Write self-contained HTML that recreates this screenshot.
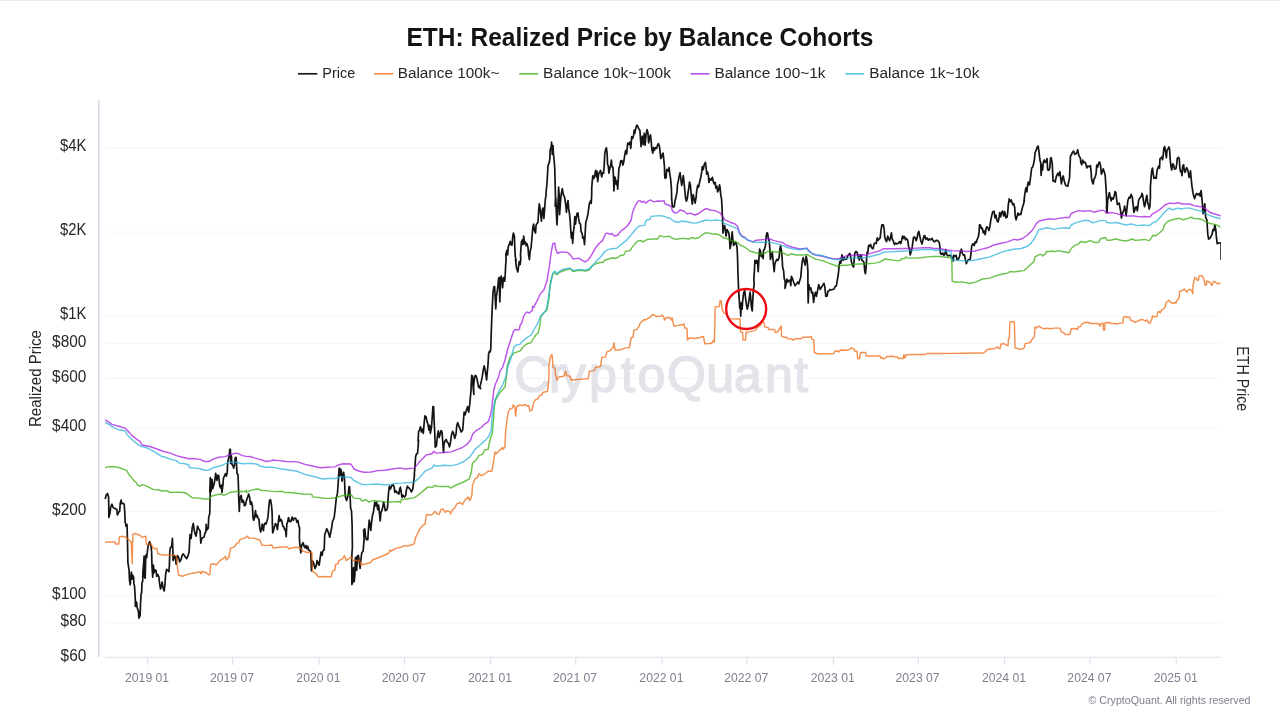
<!DOCTYPE html>
<html lang="en"><head><meta charset="utf-8"><title>ETH: Realized Price by Balance Cohorts</title>
<style>
html,body{margin:0;padding:0;background:#fff;}
body{width:1280px;height:719px;overflow:hidden;font-family:"Liberation Sans",sans-serif;}
svg{display:block;}
svg text{font-family:"Liberation Sans",sans-serif;}
.s{fill:none;stroke-width:1.45;stroke-linejoin:round;stroke-linecap:butt;stroke-opacity:0.72;}
</style></head><body>
<svg width="1280" height="719" viewBox="0 0 1280 719">
<rect width="1280" height="719" fill="#fff"/>
<rect x="0" y="0" width="1280" height="1" fill="#ececee"/>
<text x="640" y="46.3" text-anchor="middle" font-size="25.4" font-weight="bold" fill="#141414" textLength="467" lengthAdjust="spacingAndGlyphs">ETH: Realized Price by Balance Cohorts</text>
<g font-size="15.4" fill="#262626">
<text x="322.3" y="77.6" textLength="33" lengthAdjust="spacingAndGlyphs">Price</text>
<text x="397.7" y="77.6" textLength="101.8" lengthAdjust="spacingAndGlyphs">Balance 100k~</text>
<text x="543.1" y="77.6" textLength="127.8" lengthAdjust="spacingAndGlyphs">Balance 10k~100k</text>
<text x="714.5" y="77.6" textLength="111.1" lengthAdjust="spacingAndGlyphs">Balance 100~1k</text>
<text x="869.2" y="77.6" textLength="110.2" lengthAdjust="spacingAndGlyphs">Balance 1k~10k</text>
</g>
<g stroke-width="1.7" fill="none">
<line x1="298" x2="317.3" y1="73.8" y2="73.8" stroke="#1a1a1a"/>
<line x1="374.1" x2="393.2" y1="73.8" y2="73.8" stroke="#f3904f"/>
<line x1="519.2" x2="538.3" y1="73.8" y2="73.8" stroke="#6cc24e"/>
<line x1="690.6" x2="709.5" y1="73.8" y2="73.8" stroke="#bb55e8"/>
<line x1="845.3" x2="864.1" y1="73.8" y2="73.8" stroke="#62c6e4"/>
</g>
<g stroke="#f6f6f9" stroke-width="1"><line x1="105" x2="1221" y1="147.8" y2="147.8"/><line x1="105" x2="1221" y1="232.0" y2="232.0"/><line x1="105" x2="1221" y1="316.2" y2="316.2"/><line x1="105" x2="1221" y1="343.3" y2="343.3"/><line x1="105" x2="1221" y1="378.3" y2="378.3"/><line x1="105" x2="1221" y1="427.5" y2="427.5"/><line x1="105" x2="1221" y1="511.7" y2="511.7"/><line x1="105" x2="1221" y1="595.9" y2="595.9"/><line x1="105" x2="1221" y1="623.0" y2="623.0"/></g>
<line x1="98.7" x2="98.7" y1="100" y2="657" stroke="#d9d9e6" stroke-width="1.6"/>
<line x1="105" x2="1221" y1="657.3" y2="657.3" stroke="#dfdfea" stroke-width="1.1"/>
<g stroke="#dfdfea" stroke-width="1.1"><line x1="147.7" x2="147.7" y1="657" y2="665"/><line x1="232.6" x2="232.6" y1="657" y2="665"/><line x1="319.0" x2="319.0" y1="657" y2="665"/><line x1="404.4" x2="404.4" y1="657" y2="665"/><line x1="490.7" x2="490.7" y1="657" y2="665"/><line x1="575.7" x2="575.7" y1="657" y2="665"/><line x1="662.0" x2="662.0" y1="657" y2="665"/><line x1="746.9" x2="746.9" y1="657" y2="665"/><line x1="833.3" x2="833.3" y1="657" y2="665"/><line x1="918.2" x2="918.2" y1="657" y2="665"/><line x1="1004.6" x2="1004.6" y1="657" y2="665"/><line x1="1090.0" x2="1090.0" y1="657" y2="665"/><line x1="1176.3" x2="1176.3" y1="657" y2="665"/></g>
<g font-size="16.3" fill="#262626" text-anchor="end"><text x="86.3" y="151.0" textLength="26.4" lengthAdjust="spacingAndGlyphs">$4K</text><text x="86.3" y="235.2" textLength="26.4" lengthAdjust="spacingAndGlyphs">$2K</text><text x="86.3" y="319.4" textLength="26.4" lengthAdjust="spacingAndGlyphs">$1K</text><text x="86.3" y="346.5" textLength="34.2" lengthAdjust="spacingAndGlyphs">$800</text><text x="86.3" y="381.5" textLength="34.2" lengthAdjust="spacingAndGlyphs">$600</text><text x="86.3" y="430.7" textLength="34.2" lengthAdjust="spacingAndGlyphs">$400</text><text x="86.3" y="514.9" textLength="34.2" lengthAdjust="spacingAndGlyphs">$200</text><text x="86.3" y="599.1" textLength="34.2" lengthAdjust="spacingAndGlyphs">$100</text><text x="86.3" y="626.2" textLength="25.7" lengthAdjust="spacingAndGlyphs">$80</text><text x="86.3" y="661.2" textLength="25.7" lengthAdjust="spacingAndGlyphs">$60</text></g>
<g font-size="12.2" fill="#7d808e" text-anchor="middle"><text x="147.1" y="681.6">2019 01</text><text x="232.0" y="681.6">2019 07</text><text x="318.4" y="681.6">2020 01</text><text x="403.8" y="681.6">2020 07</text><text x="490.1" y="681.6">2021 01</text><text x="575.1" y="681.6">2021 07</text><text x="661.4" y="681.6">2022 01</text><text x="746.3" y="681.6">2022 07</text><text x="832.7" y="681.6">2023 01</text><text x="917.6" y="681.6">2023 07</text><text x="1004.0" y="681.6">2024 01</text><text x="1089.4" y="681.6">2024 07</text><text x="1175.7" y="681.6">2025 01</text></g>
<text transform="translate(41.3,378.5) rotate(-90)" text-anchor="middle" font-size="16.3" fill="#262626" textLength="97" lengthAdjust="spacingAndGlyphs">Realized Price</text>
<text transform="translate(1237.3,378.8) rotate(90)" text-anchor="middle" font-size="16.3" fill="#262626" textLength="65" lengthAdjust="spacingAndGlyphs">ETH Price</text>
<text x="514.3 549 561 588.9 621 637.5 667 706.2 734 765.1 793.9" y="391.5" font-size="50" fill="#e3e3ea" stroke="#e3e3ea" stroke-width="1.5" stroke-linejoin="round">CryptoQuant</text>
<clipPath id="plotclip"><rect x="104" y="95" width="1117" height="565"/></clipPath>
<g clip-path="url(#plotclip)">
<path class="s" style="stroke-width:1.7;stroke-opacity:1" stroke="#141414" d="M105.2,499.1 L106.1,495.3 L107.5,493.4 L108.6,497.2 L108.9,517.3 L109.8,514.1 L110.8,506.6 L112,504.2 L113.1,507.5 L114.5,508.4 L115.9,508.9 L116.9,509.4 L117.3,515 L118.7,512.2 L119.7,511.2 L120.2,503.7 L121.1,500 L121.7,503.7 L123,503.3 L124.2,504.2 L124.8,513.1 L125.1,521.6 L126.1,526.2 L127,524.4 L127.4,537.5 L127.7,552 L127.9,562.3 L129.1,570.7 L129.5,580.1 L130.2,584.8 L130.9,576.4 L131.4,572.2 L132.1,579.2 L132.8,575.4 L133.6,577.3 L133.9,583.9 L134.5,585.7 L135.2,597 L135.4,606.4 L136.1,601.7 L136.7,602.6 L137,607.3 L138.4,611.1 L138.9,618.1 L140.1,615.7 L140.5,604.5 L141.1,594.2 L141.7,592.3 L142,582.9 L142.7,581.1 L142.9,571.7 L143.6,564.2 L144.1,556.2 L144.5,577.3 L145.2,578.2 L145.7,557.6 L146.1,554.8 L146.7,557.6 L147.3,552 L148.3,545 L149.7,541.7 L151.1,546.9 L151.6,552 L152,566.1 L152.7,577.3 L153.4,565.1 L154.2,572.6 L155.1,569.8 L156.1,570.7 L156.7,576.4 L157.7,574.5 L158.9,576.8 L159.5,582.9 L160.5,589 L161.4,585.7 L162.1,582 L163,587.6 L164.2,590.9 L164.9,584.8 L165.6,574.5 L166.6,569.3 L167.7,570.3 L168.9,571.7 L169.4,565.1 L169.8,552 L170.3,547.8 L171.7,546.4 L172.4,538.4 L172.9,552 L173.1,560.4 L174.1,557.6 L174.8,555.7 L175.5,557.6 L176.1,564.2 L176.9,557.6 L177.6,555.7 L178.7,557.6 L179.7,561.8 L181.1,559.5 L182.3,554.8 L183.4,553.9 L184.4,555.7 L186.7,558.6 L188.1,555.3 L189.1,552 L190,534.7 L191.1,538.4 L192.3,527.2 L193.3,523.4 L194.2,530 L195.2,534.2 L196.1,536.1 L197,530 L197.5,526.2 L198.9,529.1 L200.1,530.9 L200.8,543.1 L201.7,538.4 L204.1,537 L205,532.8 L205.9,531.9 L206.2,524.4 L206.9,530 L208.3,528.1 L208.7,517.3 L209.7,514.1 L210.2,494.4 L210.6,485 L209.8,492.5 L210.3,477.5 L211.1,491.1 L212,479.4 L212.7,488.7 L214.1,484.1 L214.8,480.3 L215.7,473.3 L216.9,480.3 L218,475.2 L218.7,475.6 L219.7,485.9 L220.6,487.8 L221.4,485 L222,492.5 L223,484.1 L223.4,478.4 L224.6,475.6 L225.5,473.7 L226.4,476.1 L227.2,472.8 L227.7,462.5 L228.6,457.8 L229.2,456.4 L229.8,449.4 L230.4,449.4 L230.7,463.4 L231.4,455.9 L231.9,464.4 L232.8,465.3 L233.7,468.1 L234.5,464.4 L235.2,457.8 L236.1,457.3 L236.6,466.2 L237,473.7 L238,474.7 L238.4,485 L238.7,495.3 L238.6,495 L239.3,511.4 L239.9,497.8 L241.2,495.5 L242.1,502.5 L243,500.2 L243.7,501.6 L244.4,505.8 L245.4,505.3 L246.3,501.1 L247.4,497.8 L248.7,494.1 L249.6,497.3 L250.5,504.4 L251.5,502 L252.4,506.2 L253.1,518.4 L253.8,520.3 L254.7,516.6 L255.5,510.5 L256.2,517 L257.1,515.2 L258,518 L259,519.4 L259.6,526.9 L260.6,532 L261.5,528.7 L262.2,524.1 L263.4,530.6 L264.1,525 L265.1,523.1 L266,524.1 L266.9,521.2 L267.9,517.5 L268.8,507.2 L269.6,500.2 L270.5,499.7 L271.4,504.4 L272.1,511.9 L272.4,525 L272.7,533 L273.5,530.6 L274.4,526.9 L275.4,523.6 L276.5,525 L277.4,529.7 L278.2,523.1 L279.1,515.6 L279.9,521.2 L281,519.4 L281.9,521.2 L282.7,525.9 L283.8,526.9 L284.7,529.7 L285.5,529.2 L286.2,536.7 L286.8,524.1 L287.6,522.2 L288.5,517.5 L289.4,521.2 L290.8,521.7 L292.1,517 L293.2,520.3 L294.3,518 L295.8,518.4 L296.9,522.2 L297.9,520.3 L298.8,525.9 L299.6,527.8 L299.4,537.5 L299.8,544.1 L300.8,553 L301.7,545.5 L303.1,542.7 L304.2,546.4 L305,547.8 L305.9,545.5 L306.9,548.7 L307.8,546.4 L308.7,550.2 L310.2,551.1 L310.8,552.5 L311.4,570.8 L312.5,560.9 L313.4,562.3 L314.2,565.6 L315.1,568.4 L316.2,565.6 L317.2,560.5 L318.3,563.7 L319.2,565.2 L320,559.1 L321.1,552 L322.1,555.3 L322.8,551.1 L324.2,549.7 L324.7,534.7 L326,531.1 L326.7,528.7 L327.9,531.1 L328.8,533.9 L329.7,537.2 L330.7,532.5 L331.6,527.8 L332.6,521.2 L333.5,519.4 L334.2,517.5 L335.4,507.2 L336.3,497.8 L337.4,494.1 L338.2,482.8 L338.6,475.6 L339.2,468.1 L339.9,475.6 L340.6,469.1 L341.4,470.9 L342,481.2 L343,475.6 L343.6,472.3 L344.4,477.5 L345.2,495.9 L346.6,500.6 L347.6,497.3 L348.3,494.1 L349,486.6 L349.6,487 L350.2,498.7 L350.6,508.1 L351.5,510.9 L352.1,525 L352.4,547 L351.7,558.1 L351.9,584.4 L352.6,582.5 L353.3,569.4 L353.7,567.5 L354.2,581.6 L354.9,574.1 L355.4,558.1 L356.1,557.2 L356.7,570.3 L357.5,556.2 L358.4,555.3 L359.2,560.9 L360.1,568.4 L360.8,560.9 L361.7,553 L363.1,551.1 L364.1,539.4 L363.6,530.3 L364.8,528.9 L365.5,535.9 L366.4,539.7 L367.8,539.7 L368.3,531.2 L369.2,520 L370.2,526.6 L370.8,530.3 L371.6,521.9 L372.5,515.3 L373.4,512.5 L374.2,505.9 L374.8,502.2 L375.8,505.9 L376.7,502.2 L377.7,509.7 L378.6,505 L379.2,510.6 L380.2,520.9 L380.9,512.5 L381.9,510.6 L382.8,506.9 L383.6,502.2 L384.5,505.9 L385.2,510.6 L386.6,510.2 L387.5,507.8 L388,500.3 L388.6,491.9 L389.4,486.2 L390.3,489.1 L391.7,485.8 L393.1,484.8 L394.1,486.7 L394.8,492.3 L395.9,490.9 L396.9,492.8 L397.8,492.3 L398.9,494.2 L399.7,489.1 L400.4,487.2 L401.1,491.4 L402,497.5 L403,495.2 L404.4,497 L405.8,495.2 L406.2,490.9 L407.4,486.2 L408.6,487.7 L410,489.1 L411.4,491.9 L412.8,489.1 L413.7,481.6 L414.5,475 L414.2,475.6 L414.9,467.2 L415.6,456.9 L416.4,454.1 L417.5,453.6 L418.2,445.6 L418.6,440 L418.1,441.2 L418.6,431.9 L419.5,430 L420.5,426.7 L421.4,431.9 L422.3,429.1 L423.3,433.3 L424.2,422.5 L424.9,415.9 L426.1,416.9 L427,421.6 L428,424.4 L428.9,430 L429.6,425.3 L430.3,433.3 L431.4,428.1 L432.2,417.8 L432.9,406.6 L433.6,406.6 L434.2,422.5 L434.8,433.7 L435.2,447.3 L436.4,445.9 L437.3,437.5 L438.3,430.9 L439.2,437.5 L440.2,433.7 L441.1,430.5 L442,431.9 L442.7,441.2 L443.2,448.7 L443.6,452.5 L443.9,445 L444.8,441.2 L446.2,439.4 L447.2,442.2 L448.3,443.1 L449.5,446.9 L450.5,442.2 L451.4,435.6 L452.6,431.4 L453.7,433.7 L454.7,438.4 L456.1,433.7 L456.7,426.2 L457.7,422.5 L458.6,425.3 L459.8,428.1 L461.1,431.9 L462.7,430 L463.3,422.5 L464.1,412.2 L465,415 L466.4,410.3 L467.6,406.6 L468.7,412.2 L469.7,404.7 L470.4,397.2 L471.1,389.7 L471.1,387 L471.7,375.3 L472.5,376.2 L473.1,387 L473.9,394.4 L473.6,387 L474.4,378.1 L475.3,375.3 L476.2,376.2 L477.2,380 L478.1,384.7 L478.6,387 L480.7,388.7 L479.8,387 L480.5,384.7 L481.4,380.9 L482.3,376.2 L483.3,369.7 L484.2,365.9 L485.2,370.6 L486.1,376.2 L486.6,380 L487.3,371.6 L488,365 L488.6,353.7 L489.4,351.4 L490.3,351.9 L490.8,348.1 L491.2,334.1 L491.7,320 L492.3,306.6 L493,292.5 L493.9,286.9 L494.6,286.4 L495.1,296.2 L495.8,308.9 L496.4,296.2 L497.2,291.6 L497.9,285.9 L498.6,278.4 L499.2,277.5 L499.8,301.9 L500.5,283.1 L501.1,276.1 L501.9,278.4 L502.6,287.8 L503.3,279.4 L503.9,277.5 L504.7,281.2 L505.2,275.2 L505.6,266.2 L506.1,259.7 L505.9,254.1 L506.9,250.3 L507.6,255 L508.3,246.6 L509.2,244.7 L510.2,241.4 L511.1,244.7 L512,245.2 L512.7,237.2 L513.4,233 L514.4,236.2 L514.8,247.5 L515.3,256.9 L516.2,260.6 L515.5,259.7 L516.4,267.2 L517.8,271.9 L518.6,266.2 L519.2,261.6 L520.2,264.4 L520.8,258.7 L520.5,255 L521.4,241.9 L522.3,240 L523,244.7 L523.7,236.2 L524.5,243.7 L525.4,241.9 L526.1,245.6 L527,243.7 L528,247.5 L528.6,255 L529.4,259.7 L530.1,251.2 L531.1,247.5 L532,237.2 L532.9,226.9 L533.6,224.1 L534.5,230.6 L535.5,233 L536.1,225 L537.3,223.1 L538,222.2 L538.6,211.9 L539.2,203.9 L539.9,207.2 L540.6,213.7 L541.4,221.2 L542.3,210 L543,208.1 L543.9,218.4 L544.6,209.1 L545.3,199.7 L546.1,195 L546.1,191.9 L546.9,184.4 L547.6,173.1 L548,165.6 L549.2,162.8 L549.9,158.1 L550.2,149.7 L551.1,147.3 L551.6,142.2 L552.3,154.4 L553,145.5 L553.4,153.4 L554.2,160.9 L554.8,169.4 L555.1,182.5 L555.5,197 L555.2,206.2 L555.8,197.8 L556.4,213.7 L557,225 L557.7,209.1 L558.4,195 L558.6,187.2 L559.2,195.6 L559.6,214.7 L560.3,204.4 L561.1,195 L562.3,188.6 L563.3,194.7 L564.5,197 L565,199.7 L565.9,206.2 L566.4,212.3 L567.3,204.4 L568,200.6 L568.7,209.1 L569.5,213.7 L570.2,221.2 L570.8,230.6 L571.4,238.1 L572,232.5 L572.7,243.3 L573.4,232.5 L574.2,225.9 L574.8,216.6 L575.5,224.1 L576.2,218.4 L577,213.7 L577.9,212.8 L578.6,218.4 L579.5,223.1 L580.5,224.1 L581.1,231.6 L582.1,233.4 L582.8,238.1 L583.7,237.2 L584.5,244.7 L585.2,232.5 L585.8,222.2 L587,218.4 L588,213.7 L589.4,203.4 L590.8,200.6 L591.2,203.4 L591.7,195 L591.7,188.1 L592.3,180.6 L592.8,175.9 L593.7,178.7 L594.7,175 L595.6,170.3 L596.4,176.9 L597,171.2 L597.7,181.6 L598.6,174.1 L599.6,172.2 L600.5,170.3 L601.7,176.9 L602.7,172.7 L603.6,173.1 L604.2,165.6 L604.8,153.4 L605.7,149.2 L606.4,147.8 L607.1,153.4 L607.6,164.7 L608.3,165.6 L608.9,173.1 L609.9,168.4 L610.6,165.6 L611.4,160 L612,166.6 L613,167.5 L613.6,179.7 L613.9,190.9 L614.6,176.9 L615.3,177.8 L616.1,184.4 L617,181.1 L617.7,189.1 L618.3,178.7 L618.9,168.4 L619.8,166.1 L620.7,160.9 L621.9,160.5 L622.8,165.2 L623.7,162.3 L624.7,155.3 L625.6,150.6 L626.7,153.9 L627.7,143.1 L628.9,144.1 L629.8,142.2 L630.8,148.3 L631.7,136.6 L632.7,138.4 L633.6,135.6 L634.2,130 L634.2,130 L634.8,133.4 L635.5,129.7 L636.1,127.3 L636.9,125 L637.8,126.4 L638.7,128.7 L639.9,130.2 L640.4,138.1 L641.1,146.6 L641.7,138.1 L642.5,136.2 L643.2,144.7 L644.2,133.4 L645.1,145.2 L646.1,134.4 L647,129.7 L647.9,132.5 L648.6,142.8 L649.5,138.1 L650.5,134.8 L651.1,140.9 L651.9,149.4 L652.8,153.1 L653.6,147.5 L654.5,150.3 L655.4,147.5 L656.7,148.4 L657.5,145.2 L658.4,143.7 L659.4,146.1 L660.1,152.2 L660.8,158.7 L661.7,156.9 L662.4,154.1 L663.1,153.1 L663.9,160.6 L664.5,167.2 L664.6,174.1 L665.1,178.3 L666.1,177.8 L666.7,169.4 L667.7,170.3 L668.3,171.2 L669.1,167.5 L669.8,174.1 L670.7,179.7 L671.4,188.1 L671.7,199.4 L672.3,205.9 L673,206.9 L674.2,206.9 L674.9,201.2 L676.1,196.6 L677,191.9 L677.5,184.4 L678.4,180.6 L679.2,175.9 L680.1,172.7 L680.8,178.7 L681.7,185.3 L682.7,179.7 L683.3,175.5 L684.1,183.4 L684.8,190 L685.5,197.5 L686.4,201.2 L687.3,198.4 L688,192.8 L688.9,187.2 L689.5,182 L690.4,185.3 L691.1,193.7 L691.7,199.4 L692.3,204.1 L693.2,194.7 L694.2,199.4 L695.1,203.1 L696.1,197.5 L696.7,190.9 L697.7,185.3 L698.6,187.2 L699.5,182.5 L700.7,177.8 L701.7,172.2 L702.3,166.6 L703.3,169.4 L704.2,164.7 L705.4,162.3 L706.1,167.5 L706.7,174.1 L707.7,172.2 L708.4,175.9 L708.9,182.5 L709.8,178.7 L711.1,180.2 L712.4,177.3 L713.3,181.6 L714.2,183.9 L715.2,182.5 L715.9,188.1 L716.9,186.2 L717.6,191.9 L718.6,190 L719.5,184.8 L720.2,188.1 L720.6,193.7 L721.6,199.4 L722,206.9 L722.3,214.4 L722.7,220.9 L722.6,222 L723,233.2 L723.7,226.7 L724.7,225.7 L725.4,230.4 L726.1,236.1 L727,229.5 L728,231.4 L728.9,233.2 L729.6,240.7 L730.1,248.7 L731.1,243.6 L731.7,236.1 L732.2,231.8 L732.9,239.8 L733.6,245.4 L734.5,244.5 L735.5,242.2 L736.4,243.6 L737.1,248.2 L737.6,259.5 L738,274.5 L738.6,289.4 L739.2,298.7 L739.8,308.1 L740.2,303.4 L740.7,316.1 L741.4,302.5 L742.1,309.1 L742.6,301.6 L743.6,293.1 L744.7,290.3 L745.4,296.9 L746.4,304.4 L747.3,309.1 L748.2,305.3 L749.2,298.7 L750.1,292.2 L750.8,298.7 L751.4,307.2 L752.2,310.9 L752.7,301.6 L753.3,291.2 L754.1,284.7 L753.9,278.2 L754.5,268.9 L754.9,260.4 L756.1,263.2 L756.7,260.4 L757.5,261.4 L758.2,271.7 L758.9,259.5 L759.6,249.2 L760.5,251.1 L761.2,256.7 L762.4,253.9 L763.1,258.6 L763.6,250.1 L764.5,249.2 L765.5,245.4 L766.1,237 L766.9,232.8 L767.6,233.2 L768.3,238.4 L769.2,240.7 L769.9,250.1 L770.4,259.5 L771.4,255.7 L772.3,252.5 L773,259.5 L773.6,266.1 L774.2,271.7 L774.8,264.2 L775.8,261.4 L776.7,259.5 L777.9,260.4 L779.1,257.6 L779.8,250.1 L780.5,245.9 L781.4,250.1 L782.1,257.6 L782.6,267 L783.6,270.7 L784.2,278.2 L785.2,282 L785,288.4 L786.1,283.9 L787,279.2 L788,282 L788.9,280.6 L790.1,280.1 L790.8,285.7 L791.4,276.4 L792.7,279.2 L793.6,282 L795,285.7 L796.4,283.9 L797.8,282 L798.7,283.9 L799.9,280.1 L800.8,277.3 L801.6,267 L802.3,261.4 L803.2,257.6 L804.2,261.4 L805.1,265.1 L806.2,256.2 L807.2,261.4 L807.9,270.7 L807.9,289.4 L808.2,303 L808.9,284.7 L809.8,289.4 L810.8,288 L811.7,293.1 L812.7,292.2 L813.6,302.5 L814.5,295.5 L815.5,292.2 L816.4,296.4 L817.8,289.4 L818.7,284.7 L820.2,289.4 L821.6,287 L822.5,285.6 L823.9,283.3 L824.8,286.6 L825.8,296.4 L827.2,295.9 L827.9,291.2 L829.1,290.8 L830,289.4 L831.2,290 L834.1,289 L835,286.7 L836.4,285.7 L837.3,280.1 L838.3,274.5 L839.2,265.1 L839.9,261.4 L840.8,263.2 L841.4,258.6 L842,254.8 L843,260.4 L844.2,257.6 L845.3,259.5 L846.7,259 L847.7,255.7 L848.6,254.8 L849.8,253.4 L850.7,256.7 L851.4,261.4 L852.3,265.1 L853.6,267 L854.2,258.6 L854.9,252.9 L856.1,251.5 L857.3,252.9 L858.2,257.6 L859.4,260 L860.3,254.8 L861.2,255.3 L862,260.4 L863.1,260.9 L864.1,263.2 L864.8,271.7 L865.5,273.6 L866.1,267 L866.7,257.6 L867.1,252 L867.8,252.9 L868.6,245.4 L869.5,246.4 L870.6,244.5 L871.6,247.8 L873,248.7 L874.2,243.6 L875.3,243.1 L876.2,243.6 L877.2,237.9 L878.1,240.3 L879.2,238.9 L880.2,237.9 L881.1,229.5 L881.9,224.8 L883.3,224.8 L884.2,229.5 L884.7,237 L885.6,239.8 L886.6,241.7 L887.7,236.1 L888.6,238.4 L889.6,240.7 L890.5,237.5 L891.4,232.8 L892.2,238.9 L893.1,240.7 L894.5,244.5 L895.7,243.1 L896.9,244 L898.3,243.1 L899.7,241.7 L900.6,243.6 L901.6,240.7 L902.5,236.1 L903.4,238.4 L904.4,236.5 L905.5,239.8 L906.4,238.4 L907.7,240.3 L908.6,246.4 L909.5,249.2 L910.2,254.8 L911.4,251.1 L912.3,246.4 L913,240.7 L913.7,237 L915.2,237.5 L916.1,240.7 L917,238.4 L918,233.2 L918.9,231.4 L919.8,236.1 L920.8,240.7 L922,244 L922.9,240.3 L923.9,236.1 L924.8,235.6 L925.7,239.3 L926.9,237.9 L928.3,240.3 L929.2,238.9 L930.4,239.8 L932,238.4 L933.4,241.2 L934.8,241.7 L936.2,240.3 L937.9,240.7 L939.2,242.2 L939.9,246.9 L940.4,253.4 L941.6,254.4 L942.7,253 L943.9,255.3 L944.8,254.4 L945.8,249.7 L946.7,254.4 L948.1,255.8 L950,255.3 L951.4,256.2 L952.3,258.1 L953.3,260.9 L953.7,255.3 L955.2,256.2 L956.1,255.3 L957,259.5 L958.4,259.1 L959.6,256.2 L960.5,251.1 L961.4,249.2 L962.4,253.4 L963.6,255.3 L964.5,254.8 L965.5,260 L966.4,263.7 L967.3,260.9 L968.6,259.5 L970.2,259.5 L971.1,252.5 L971.7,245.9 L973,243.6 L974.2,245.5 L975.3,241.7 L976.2,242.7 L977.2,239.4 L978.3,237 L979.1,231.9 L979.5,224.8 L980.5,225.3 L981.4,228.6 L982.3,228.1 L983.3,232.8 L984.2,230.9 L985.2,234.7 L986.1,228.1 L987,226.7 L988,228.1 L988.9,230.5 L989.8,227.2 L990.8,220.2 L991.7,215.9 L992.7,211.7 L994.1,211.2 L995,217.8 L995.9,215 L996.9,220.2 L998,222 L998.9,218.7 L999.7,212.7 L1000.6,216.9 L1001.7,212.2 L1002.7,211.2 L1003.6,215.9 L1004.8,211.7 L1005.8,217.8 L1007,217.3 L1007.7,213.1 L1008.3,204.7 L1009.1,200 L1009.1,198.9 L1010,201.7 L1011.1,199.9 L1012.1,202.7 L1012.8,204.7 L1013.7,203.7 L1014.7,207.5 L1015.2,215.9 L1016.1,219.7 L1017,216.4 L1018,213.1 L1018.9,215 L1019.8,214.1 L1020.8,214.5 L1021.7,210.3 L1022.7,206.6 L1023.6,203.7 L1024.5,200 L1023.9,201.7 L1024.8,194.2 L1025.5,189.6 L1026.1,187.7 L1026.9,191.9 L1027.6,184.9 L1028.3,182.1 L1029.5,184.9 L1030.2,180.2 L1031.1,172.7 L1031.7,168 L1032.7,167.1 L1033.6,163.8 L1034.4,159.6 L1035.1,152.5 L1036.2,150.2 L1037.2,146.9 L1038.1,146 L1038.9,151.1 L1039.5,156.7 L1040.2,161.4 L1040.7,162.4 L1041.1,175.5 L1041.9,165.2 L1042.6,169.9 L1043.3,162.4 L1044.2,160 L1045.2,162.4 L1046.1,161.4 L1047,158.6 L1047.7,169.9 L1048.9,170.3 L1049.8,168 L1050.5,158.2 L1051.2,157.7 L1052.2,163.3 L1052.7,173.6 L1053.1,181.1 L1054.5,180.7 L1055.2,182.1 L1056.1,177.4 L1057.1,174.6 L1058,173.2 L1058.9,175.5 L1059.9,171.7 L1060.6,177.4 L1061.4,183.9 L1062.3,178.3 L1063.2,176 L1064.2,180.7 L1065.1,183.9 L1066.1,185.8 L1067.7,186.3 L1068.6,182.1 L1069.5,178.3 L1070,166.1 L1070.5,155.8 L1071.4,154.9 L1072.3,152.5 L1073.6,151.1 L1074.7,154.4 L1076.1,153.5 L1077,152.1 L1077.7,149.7 L1078.4,153.9 L1079.4,156.7 L1080.3,157.7 L1080.8,162.4 L1081.7,164.7 L1082.7,160 L1083.6,162.8 L1084.8,161.9 L1085.9,164.2 L1086.9,168 L1087.8,166.1 L1089.2,166.6 L1090.4,165.7 L1091.1,171.7 L1091.6,179.2 L1092.5,182.5 L1093.2,183.9 L1093.9,179.2 L1095.1,177.4 L1096.1,173.6 L1096.7,165.2 L1097.7,167.1 L1098.6,163.3 L1099.5,161.9 L1100.5,165.2 L1101.4,174.1 L1102.3,171.7 L1103.3,168.9 L1104.2,171.7 L1105.2,175.5 L1105.8,184.9 L1106.4,194.2 L1106.7,205 L1106.4,207.2 L1107,212.8 L1107.5,204.4 L1107.7,200 L1108.4,197.2 L1109.4,192.5 L1110.1,196.2 L1111.1,200.9 L1112,197.7 L1113.1,199.1 L1114.1,196.2 L1115,191.6 L1115.9,192.5 L1116.7,200 L1117.3,204.4 L1118.3,203.9 L1119.2,203 L1119.9,207.2 L1120.6,210.9 L1121.4,218 L1122,215.6 L1123,211.9 L1123.9,210 L1124.6,206.2 L1125.3,210 L1126.1,215.6 L1126.7,210.9 L1127.4,204.4 L1127.9,200.2 L1129.1,197.2 L1130,198.1 L1131.1,194.4 L1132.3,197.2 L1133,203.7 L1133.3,206.2 L1133.9,212.3 L1134.7,210.5 L1135.4,207.2 L1136.6,206.7 L1137.3,210.9 L1138,206.2 L1138.6,200.2 L1139.8,198.1 L1141.2,196.2 L1142,193.4 L1142.7,195.3 L1143.3,200 L1144.1,204.7 L1144.5,206.7 L1145.2,204.4 L1145.9,199.7 L1146.9,195.3 L1147.6,201.9 L1148.3,204.4 L1149.2,209.1 L1149.9,206.2 L1150.4,197.8 L1150.4,186.9 L1151.1,177.5 L1151.7,170.9 L1152.5,168.1 L1153.2,173.7 L1153.9,178.4 L1155.3,177.5 L1156.2,178.4 L1157,170.9 L1157.9,168.1 L1158.6,166.2 L1159.5,168.1 L1160,158.7 L1160.9,158.3 L1161.9,156.9 L1162.6,159.7 L1163.3,154.1 L1163.9,148 L1164.7,146.6 L1165.6,152.2 L1166.4,157.8 L1167,150.3 L1168,148.9 L1168.9,147 L1169.6,149.4 L1170.1,158.7 L1170.8,165.3 L1171.7,170 L1172.7,163.9 L1173.6,164.8 L1174.5,169.1 L1175.9,168.6 L1176.7,164.4 L1177.3,158.3 L1178.3,157.3 L1179.2,158.3 L1179.9,168.1 L1180.6,171.9 L1181.4,170.9 L1182,175.6 L1182.7,166.2 L1183.6,164.8 L1184.4,170.9 L1185.1,172.3 L1186.1,169.1 L1186.7,167.7 L1187.7,170 L1188.3,172.3 L1189.1,177.5 L1189.8,176.6 L1190.5,170.9 L1191.1,177.5 L1191.9,185.9 L1192.8,191.6 L1193.7,196.2 L1194.7,198.6 L1195.6,195.3 L1196.6,193.4 L1198,194.8 L1199.4,193.4 L1200.3,196.2 L1201.1,190.6 L1201.7,196.2 L1202.4,203.7 L1202.7,209.1 L1203.1,213.7 L1203.9,211.9 L1204.2,207.2 L1204.8,203.9 L1205.2,210.9 L1205.7,217.5 L1206.9,219.8 L1207.3,226.9 L1207.8,234.4 L1208.6,239.1 L1209.7,238.6 L1211.1,236.2 L1212,234.4 L1213,229.7 L1213.9,230.6 L1214.8,225 L1215.8,229.7 L1216.4,237.2 L1217.2,243.7 L1218.3,243.3 L1219.5,242.8 L1221.1,243.2 L1221.1,260"/>
<path class="s" stroke="#ee650b" d="M105.2,542.2 L110,541.9 L115,541.9 L115.6,544 L118.8,544 L119.4,536.9 L122.5,536.2 L126.2,537.2 L128.8,540 L131.2,541.9 L132.2,563.8 L132.8,534.4 L135,533.5 L137.5,534.4 L141.2,536.2 L142.5,537.5 L145.6,536.2 L146.5,544.4 L151.2,543.8 L153.1,548.5 L156.9,548.5 L157.8,553.8 L162.5,555 L170,555 L176.2,555.6 L177.5,567.5 L178.5,575 L182.5,576.2 L187.5,574.4 L195,572.8 L200,571.9 L201.2,573.8 L201.9,571.5 L206.2,572.5 L208.8,575 L210,573.8 L210.6,564.4 L213.8,563.8 L216.2,565 L220,560.6 L223.8,558.1 L225.6,556.2 L226.2,560 L228.8,557.5 L230.6,548.1 L234.4,546.9 L236.9,543.1 L238.8,542.5 L240,539.4 L245,538.1 L247.5,536.2 L248.8,538.1 L253.8,538.1 L259.8,540 L261.9,545 L266.2,545.6 L271.9,545 L273.1,548.1 L278.8,547.2 L287.5,546.9 L288.8,548.8 L295,547.2 L300,547.5 L303.1,551.2 L307.5,552.5 L311.9,552.2 L312.5,571.2 L316.2,573.8 L318.1,576.9 L325,576.5 L331.2,576.9 L332.5,571.2 L335,570 L335.6,564.4 L338.1,563.8 L338.8,560.6 L342.5,558.8 L344.4,555.6 L346.2,560.6 L351.2,556.9 L353.1,560.6 L358.8,560.2 L360,561.2 L360.6,565 L366.2,563.8 L370.6,562.5 L372.5,560 L378.8,557.5 L385,555 L388.8,553.1 L390,550 L391.2,551.2 L396.2,548.1 L401.2,547.2 L403.8,545.6 L407.5,546 L413.1,544.4 L414.4,543.1 L415.6,537.5 L419.8,528.8 L423.1,525 L425,524.4 L426.5,514.4 L429.4,515 L432.5,514.4 L435,511.2 L436.9,513.8 L439.4,514.4 L440.6,510 L443.1,508.8 L445,512.5 L446.9,510.6 L450,511.9 L450.6,513.8 L452.5,510 L455,507.5 L456.9,503.8 L460,502.5 L462.5,504.4 L465,500 L468.1,496.9 L470,500.6 L471.9,495 L472.5,485 L473.1,483.8 L475,478.8 L477.5,477.5 L478.8,473.8 L481.2,475.6 L485,473.8 L488.1,471.2 L491.9,471.2 L493.8,460 L495,451.9 L496.2,453.8 L500,450 L502.5,447.5 L503.1,449.4 L505,446.9 L505.6,431.2 L506.9,421.2 L508.1,412.5 L510,408.8 L512.5,408.1 L513.1,405 L515,407.5 L515.6,416.2 L516.9,406.2 L520,405 L522.5,405.6 L525,404.4 L527.5,406.2 L528.8,405.6 L530,411.2 L531.9,410 L533.1,405 L534.4,401.2 L535.2,400 L538.1,398.8 L539.4,395.6 L541.9,395 L542.5,392.5 L547.5,391.2 L548.8,378.8 L549,366.2 L550,357.5 L551.9,354.4 L552.5,360 L553.1,367.5 L555,368.1 L555.6,375 L556.9,380 L558.8,376.9 L563.8,376.2 L565.6,371.2 L566.9,375.6 L570,376.2 L571.2,380 L578.8,379.4 L588.1,378.8 L589.4,371.2 L594.4,370.6 L595.6,367.5 L600.6,366.2 L601.9,357.5 L605.6,356.9 L606.9,351.9 L610,350.6 L611.9,348.8 L613.1,347.5 L614,342.8 L615,350 L619.8,350 L625,348.1 L629.4,347.5 L631.2,337.5 L633.1,337.2 L634,330 L636.9,329.4 L639.4,325.6 L640,323.5 L644.4,319.4 L645.6,320 L648.1,318.1 L650,317.5 L651.9,314.8 L654.4,315 L656.2,316.5 L660.6,316.2 L661.9,315 L663.8,316.9 L664.4,320 L666.2,317.8 L670,317.5 L671.2,320 L672.2,318.1 L673.1,323.1 L674,326.2 L676.9,325.6 L682.5,324.8 L684,323.8 L684.8,328.1 L686.9,328.1 L687.5,340 L689.4,337.8 L695,338.5 L700,337.5 L703.5,336.5 L704.8,343.8 L710,343.5 L712.5,342.5 L713.5,340 L714.4,341.9 L715.2,306.9 L719.4,306.5 L720,300.6 L721.2,300.6 L722.2,308.8 L723.8,313.1 L726.2,313.8 L728.8,318.8 L740,319 L740.6,331.9 L742.5,332.5 L743.1,340 L745.6,340 L746,332.5 L748.8,331.9 L755,330.6 L757.5,327.5 L760.6,325 L761.9,321.9 L763.8,321.9 L764.8,326.9 L768.1,327.5 L768.8,329.4 L774.4,329.4 L775.6,332.5 L777.8,331.9 L779.8,328.1 L781.2,326 L781.5,336.2 L783.8,337.2 L786.9,337.2 L787.5,338.8 L791.9,339 L793.1,340.2 L795,338.8 L801.2,338.8 L802.5,337.2 L808.8,337.2 L811.2,336.5 L812.2,339.4 L813.8,340 L814.4,352.5 L817.5,353.8 L826.2,353.8 L833.8,353.5 L834.8,351.2 L837.8,351 L838.5,351.9 L840.6,350 L847.5,350.2 L850.6,348.8 L851.5,347.8 L853.8,348.8 L854.8,351.2 L856.9,351.2 L857.8,358.8 L859.4,358.5 L860.6,352.5 L865.6,352.5 L866.2,356 L873.8,356 L880,356 L880.6,358.1 L881.9,357.5 L883.1,358.8 L885.6,358.1 L886.9,356.5 L893.1,356.2 L895,356.9 L897.5,356.9 L898.5,358.5 L903.1,358.5 L903.8,354.8 L905,358.1 L906,354.8 L916.2,354.4 L925.6,354.4 L926.9,353.5 L933.8,353.5 L939.8,353.5 L952.5,353.4 L965,353.2 L977.5,353 L983.1,353.1 L985.6,351.5 L986.9,349.8 L991.2,348.8 L995,348.5 L997.2,346.9 L998.1,348.1 L1000,348.5 L1001,344 L1003.8,343.5 L1006.2,345 L1008.1,345.6 L1008.5,338.8 L1009.4,338.1 L1009.8,323.1 L1011.2,321.5 L1014.4,321.9 L1015,348.1 L1016.9,348.1 L1019.4,349.4 L1023.1,348.8 L1024.4,347.5 L1025.2,343.5 L1027.5,343.1 L1030.2,342.5 L1031.9,339.8 L1033.1,337.8 L1034.4,337.2 L1035,326.9 L1036.9,328.1 L1038.8,326 L1041.9,328.1 L1045,328.8 L1046.9,328.1 L1050,328.8 L1055,328.1 L1060,328.1 L1061.5,331.9 L1063.8,332.8 L1065,334.4 L1070,334.4 L1071.2,328.8 L1075.6,328.5 L1077.5,329.4 L1078.1,326.9 L1080.6,326.5 L1081.9,323.8 L1085,322.5 L1087.5,322.2 L1091.2,323.5 L1096.2,323.5 L1099.4,324 L1099.8,326.2 L1101.9,323.1 L1103.1,323.1 L1103.5,330 L1104.8,330 L1105,322.8 L1108.8,322.5 L1111.2,323.5 L1115,323.5 L1116.9,324 L1119.4,323.1 L1122.8,323.1 L1123.5,316.9 L1125.6,316.5 L1127.5,317.5 L1128.1,316.9 L1130,317.5 L1130.6,320.2 L1132.5,320.6 L1134.4,322.2 L1137.5,321.2 L1140,320 L1142.5,319.4 L1145,321 L1146.9,320 L1148.8,323.1 L1150,323.1 L1151.9,318.8 L1152.5,316 L1155,316.9 L1156.9,316.2 L1157.8,312.2 L1159.4,311.5 L1160.2,312.8 L1161.2,310.6 L1165,307.5 L1166.2,302.5 L1169,300.2 L1170.6,302.2 L1172.5,303.5 L1174.4,302.5 L1176,303.1 L1176.5,301 L1179,298.1 L1179.8,291.2 L1182.5,290.6 L1184.4,289 L1186.9,292.2 L1188.1,290 L1190.6,289.4 L1191.9,291.2 L1192.8,293.8 L1193.1,285 L1194.8,277.5 L1196.2,278.1 L1197.2,280.6 L1198.5,280 L1199,276 L1201.9,275.6 L1203.8,278.8 L1205,285 L1206.2,285 L1206.9,281 L1210,282.5 L1211.9,285.6 L1213.5,281.5 L1215,281.9 L1217.5,284 L1218.8,283.1 L1220.6,284"/>
<path class="s" stroke="#33aa09" d="M105.2,467.8 L107.5,466.9 L112.5,466.5 L118.8,467.5 L123.8,469.4 L126.9,470.6 L128.8,474.4 L131.2,476.9 L133.8,480.6 L136.2,482.5 L138.1,485.6 L140,486.2 L141.9,484.6 L146.2,485.9 L150,487.8 L153.1,489.4 L158.8,490 L162.5,491 L166.2,490.6 L170.6,492.5 L177.5,492.1 L183.8,492.5 L187.5,494 L190,496.2 L192.5,497.8 L198.8,498.1 L205,499 L209.4,499 L211.2,496.2 L216.2,494.8 L221.2,494 L223.8,495.2 L226.2,494.4 L230.6,492.2 L236.2,491.5 L241.2,491.2 L245.6,491.9 L246.2,490 L246.9,492.5 L250,490.6 L253.8,489.6 L257.5,489 L259.8,489.5 L260,490.2 L267.5,490.9 L275,491.6 L282.5,491.2 L283.8,492.2 L292.5,492.8 L302.5,494 L311.9,494.4 L312.5,496.9 L318.8,497.5 L325,498.4 L331.2,498.2 L336.2,497.5 L341.2,496 L345,495 L351.2,494.8 L353.8,498.1 L360,498.5 L361.9,501 L366.2,499.8 L368.8,502.2 L372.5,500.6 L380,501.2 L385,501.9 L392.5,501.9 L400,501.5 L400.6,502.8 L401.2,499.8 L407.5,498.8 L413.8,497.9 L417.5,495.6 L419.8,493.8 L424.4,489.9 L428.1,486.9 L432.5,487.5 L434.4,485.4 L437.5,486.2 L442.5,486.5 L448.8,486.5 L450.6,488.1 L456.2,485 L462.5,482.5 L469.4,478.8 L471.2,472.5 L472.5,463.1 L476.2,460 L478.8,455.6 L482.5,454.4 L484.4,450 L488.1,449.4 L490,440 L492.5,432.5 L493.5,418.8 L494.4,406.2 L495.6,400 L495.6,399.9 L500,392.5 L505,386.9 L506.2,378.8 L507.2,366.2 L510,357.5 L513.8,353.1 L517.5,351.9 L520.6,350.6 L522.5,347.5 L526.9,343.8 L530.6,342.8 L533.8,338.1 L536.2,334.4 L538.1,333.1 L540,325 L541,316.2 L543.8,313.1 L546.9,310 L546.9,310 L548.8,300 L550,285 L551.9,277.5 L553.1,273.8 L555,273.1 L556.9,274.8 L558.8,272.5 L562.5,271.2 L566.2,269.8 L570,268.8 L573.1,271.5 L577.5,270.6 L581.2,270.2 L585,271 L588.8,270.2 L592.5,265.6 L595.6,263.8 L600,262.5 L603.1,262.2 L605,260 L608.8,259 L612.5,257.8 L615,258.5 L618.8,256.9 L620,255.6 L623.8,255 L625.6,251.2 L630,250.6 L632.5,246.9 L637.5,241 L641.2,240.6 L643.1,241.9 L647.5,239.4 L652.5,239 L657.5,239 L660,235.6 L663.8,236.9 L668.8,236.2 L673.8,238.8 L676.9,239.4 L679.8,238.5 L685,238.5 L689.4,239 L691.2,237.5 L695,238.5 L698.8,237.8 L701.9,235 L705.6,232.8 L708.8,233.1 L712.5,234 L716.2,234 L720,235 L723.1,237.8 L727.5,238.8 L731.2,240.6 L735,241.2 L738.1,243.1 L740,245 L745,247.2 L750,251.2 L755,252.5 L758.8,253.8 L762.5,254 L765,253.1 L767.5,251.5 L771.2,251.2 L775,251.9 L779.8,251.9 L785,253.8 L788.1,255.6 L790.6,253.8 L796.2,255 L802.5,255 L806.9,254.4 L811.2,256.9 L816.2,259.4 L822.5,260.6 L828.8,263.1 L833.8,265 L837.5,266.2 L842.5,265.2 L847.5,265.2 L852.5,264.4 L860,264 L867.5,263.8 L875,263.1 L880,261.9 L885,259 L890,259.8 L896.2,260.6 L900.6,260.6 L901.2,258.8 L905,258.5 L905.6,256.9 L908.8,258.1 L915,258.1 L921.2,257.8 L927.5,256.9 L933.8,256.5 L939.8,256.5 L946.2,257.2 L951.2,257.8 L951.9,262.5 L952.2,281.2 L956.2,282.2 L962.5,281.9 L970,283.5 L976.2,281.9 L982.5,279 L990,278.1 L996.2,275.6 L1002.5,274 L1007.5,273.1 L1010,271.5 L1015,271.9 L1020,271 L1023.8,270.6 L1027.5,267.5 L1030,265 L1033.8,261.9 L1035,256.9 L1038.8,254.8 L1041.2,254.4 L1042.5,256 L1045.6,253.8 L1046.2,251.5 L1050,251.5 L1053.1,251 L1054.4,251.9 L1058.1,250.6 L1062.5,251.5 L1068.8,252.8 L1071.2,248.5 L1074.4,245.6 L1078.8,243.8 L1080.6,241.5 L1085,242.5 L1090,240.6 L1095,242.5 L1098.8,242.2 L1099.8,240 L1100.6,238.8 L1105.6,237.5 L1106.9,240.2 L1111.2,240 L1115.6,239 L1120,240 L1125,241 L1128.8,240.2 L1131.9,239 L1135,240.2 L1140,240 L1144.4,239.4 L1149.4,240.6 L1151.2,238.1 L1153.1,235 L1155,236.2 L1160,232.5 L1163.1,229.4 L1164.4,225 L1167.5,221.5 L1171.2,220 L1176.2,219 L1178.8,218.1 L1183.1,219.8 L1188.8,218.1 L1191.2,217.2 L1193.8,218.5 L1198.8,218.8 L1202.5,219.8 L1206.2,221.9 L1210,223.5 L1215,224.4 L1218.8,226 L1220.6,227.5"/>
<path class="s" stroke="#a113df" d="M105.2,419.8 L108.8,422.2 L111.9,424.4 L118.8,426.2 L125,428.1 L128.1,431.2 L131.9,435.6 L136.2,438.8 L140.6,441.9 L141.9,445 L150,446.5 L156.2,448.8 L163.8,451.5 L170.6,453.1 L176.2,455.6 L182.5,457.2 L188.8,458.8 L193.1,458.5 L200,459.4 L205,461.5 L208.8,461.5 L213.1,459.1 L218.8,457.2 L225,456.6 L230,454.8 L235.6,453.1 L238.8,453.8 L242.5,455.6 L247.5,456.6 L250,456.5 L255,458.1 L259.8,459.4 L260,459.4 L266.2,461.5 L271.9,460.6 L272.5,460 L278.8,460.6 L286.2,461.5 L297.5,461.9 L305,464.4 L312.5,466 L320,467.8 L327.5,467.2 L335,466.9 L338.8,464.8 L343.8,463.8 L350.6,464 L352.5,466.2 L353.8,469 L358.8,471 L363.8,472.2 L371.2,472 L377.5,470.6 L385,470.2 L392.5,469 L400,467.9 L405,469 L410,468.5 L414.4,468.1 L417.5,464.4 L419.8,461.2 L420,461.2 L426.2,455 L431.9,453.8 L433.8,451.2 L436.2,453.1 L443.8,452.5 L451.2,451.9 L457.5,449.4 L462.5,447.5 L467.5,443.8 L470.6,440 L472.5,434.4 L476.2,430.6 L481.2,427.5 L485,423.8 L488.1,421.9 L490.6,415 L491.9,407.5 L492.5,400 L492.8,399.9 L493.8,390 L495.6,383.8 L498.8,376.2 L500,371.2 L502.5,367.5 L505,360 L507.5,350 L510.6,340 L513.8,330.6 L515.6,329.4 L517.5,330 L519.4,329.4 L520,325.6 L521.9,322.5 L523.8,315.6 L526.9,311.9 L529.4,313.1 L532.5,310 L532.5,306.2 L533.8,307.5 L535.6,303.8 L538.8,297.5 L540,294.4 L543.8,290 L546.9,281.2 L549.4,266.2 L551.2,252.5 L552.8,243.8 L554.8,243.1 L555.6,248.8 L557.5,253.5 L560,252.2 L563.1,251.9 L567.5,252.5 L570,254.4 L573.1,258.8 L576.2,258.5 L578.8,258.1 L582.5,260.6 L585,261.9 L588.1,260 L591.2,255.6 L595,248.8 L598.8,243.8 L602.5,240.6 L605.6,233.8 L607.5,233.1 L610,234.4 L611.9,233.5 L614.4,236 L617.5,235.2 L621.2,230.6 L625,228.1 L628.1,225 L628.1,225 L631.2,220 L632.5,212.5 L635,206.2 L638.1,201.2 L640,200.6 L641.9,202.5 L643.8,201.2 L645.6,203.1 L648.1,201.2 L650.6,200 L653.8,201.9 L657.5,201 L661.2,201.2 L663.8,200.6 L665,203.8 L668.1,205 L671.2,206.2 L672.5,211.2 L675,213.1 L677.5,212.5 L680,210 L683.8,211 L687.5,214 L690,213.1 L695,215 L698.8,213.5 L702.5,210.6 L706.2,208.5 L710,210 L715,210.6 L720,212.8 L722.5,216.2 L725,219.8 L730,222.2 L735,224 L737.5,226.2 L739.4,232.5 L741.9,236 L745,237.5 L747.5,240 L753.1,241.9 L756.2,240.2 L761.2,239.8 L765,239.4 L768.8,238.5 L773.8,240.6 L779.8,241.9 L782.5,242.5 L786.2,245.2 L792.5,247.2 L800,249 L806.9,248.1 L808.8,250.6 L812.5,253.8 L816.2,255.2 L821.2,256 L827.5,257.5 L833.8,259 L838.8,258.8 L842.5,256.9 L847.5,255.6 L855,255 L861.2,254.8 L866.2,255.2 L871.2,253.1 L876.2,251.9 L880,250.6 L883.1,248.8 L888.8,248.8 L895,248.8 L902.5,248.5 L910,248.5 L917.5,248.1 L923.8,247.8 L930,247.8 L933.8,248.5 L939.8,248.5 L946.2,250 L952.5,250.6 L960,251 L967.5,251.5 L975,251 L981.2,249.4 L987.5,247.8 L993.8,245 L1000,243.5 L1007.5,241.9 L1012.5,239.8 L1015,239.4 L1017.5,240 L1022.5,238.5 L1027.5,235 L1032.5,230 L1036.2,223.8 L1038.8,221.2 L1043.8,219.8 L1050,218.8 L1053.8,219.4 L1060,218.1 L1065,217.5 L1069.4,217.5 L1071.2,213.5 L1075,211.9 L1078.8,210.6 L1083.8,211.2 L1090,210.6 L1093.8,212.2 L1097.5,211.2 L1099.8,210.6 L1102.5,210.2 L1105,211.2 L1106.2,213.1 L1110,212.5 L1115,213.1 L1121.2,215 L1127.5,216 L1133.8,216 L1140,216.9 L1145,216.5 L1150,216.9 L1152.5,213.8 L1156.2,211.9 L1160,209.4 L1165,205 L1169.4,203.1 L1175,203.5 L1178.1,202.8 L1182.5,204 L1190,204 L1193.8,205.6 L1198.8,206.5 L1202.5,206.9 L1206.2,209.4 L1210,212.5 L1215,214 L1218.8,215.2 L1220.6,216.2"/>
<path class="s" stroke="#25b0d9" d="M105.2,422.5 L108.8,424.4 L112.5,426.9 L119.4,430.2 L122.5,430 L125.6,431.5 L126.9,434.4 L129.4,436.9 L132.5,440 L136.2,443.1 L140.6,446.2 L146.2,447.5 L150,449.4 L155,452.2 L161.2,456.2 L166.2,457.5 L170.6,459.4 L176.2,460.6 L179.4,463.1 L185,463.8 L189,465 L189.4,467.5 L195,468.1 L200,468.8 L205,470.2 L208.8,470 L213.1,467.8 L218.8,466.2 L223.1,465 L226.2,463.1 L230,462.2 L236.2,462.2 L241.2,463.5 L245,463.8 L250,463.4 L256.2,464 L259.8,465.6 L260,466.2 L266.2,467.2 L272.5,467.1 L280,468.8 L288.8,470 L296.2,471 L305,474.4 L313.8,476.5 L322.5,479 L328.8,478.5 L335,478.5 L340,477.2 L345,476.9 L351.2,477.5 L353.1,480 L358.8,483.1 L363.8,484.8 L370,484.4 L377.5,484 L385,485 L390,484.4 L395,483.5 L402.5,483.1 L410,482.5 L414.4,481.9 L417.5,479.4 L419.8,477.2 L420,476.9 L425,471.2 L431.9,468.1 L433.8,465 L436.2,466.2 L443.8,465.2 L451.2,465.6 L457.5,464.4 L463.8,461.5 L470,456.9 L475,449.4 L480,445 L485,440.6 L488.8,436.2 L491.2,430.6 L491.9,418.8 L493.8,406.2 L495,400 L495,399.9 L498.8,391.2 L502.5,385 L505.6,377.5 L508.1,366.2 L511.2,357.5 L513.8,347.5 L516.2,345 L520,344.4 L522.5,341.2 L526.2,338.1 L531.2,335 L533.8,330 L537.5,323.8 L540,317.5 L543.8,312.5 L546.2,310 L546.2,310 L548.1,300 L550,287.5 L551.9,276.2 L553.1,272.5 L555,271.2 L556.9,273.8 L558.8,271.9 L562.5,269.4 L566.2,268.8 L570,268.1 L573.1,270.6 L577.5,269.8 L581.2,269.4 L585,270.2 L588.8,269 L592.5,265.6 L596.2,261.2 L601.2,256.2 L605,251.2 L608.8,249.4 L612.5,248.8 L616.9,248.1 L621.2,244.4 L626.2,240.6 L630.6,235.6 L635,230 L638.8,226.2 L643.1,225.4 L645,225 L645,222.5 L646.9,220 L650,219.4 L651.2,216.2 L655,216 L660,215.6 L663.8,216.2 L666.2,217.2 L670,218.1 L673.8,221.2 L677.5,222.2 L681.2,221.2 L686.2,221.5 L691.2,222.8 L696.2,223.1 L701.2,221.5 L706.2,220 L711.2,220.6 L716.2,220 L721.2,220.6 L723.8,223.1 L728.8,225.2 L733.8,227.2 L737.5,228.8 L740,235 L743.1,237.5 L745,237.8 L747.5,240 L752.5,241.9 L757.5,242.5 L763.8,242.2 L768.8,241.9 L773.8,243.1 L779.8,244.4 L786.2,247.2 L792.5,248.8 L800,249.8 L806.2,248.5 L808.8,251.2 L812.5,254 L816.2,254.8 L821.2,255.2 L827.5,257.5 L833.8,259.4 L838.8,259.8 L842.5,258.8 L850,258.1 L857.5,257.8 L865,257.8 L871.2,256.2 L876.2,255 L880,254 L883.1,252.2 L888.8,251.9 L896.2,251.5 L903.8,251 L911.2,250.6 L917.5,250 L923.8,249.4 L930,249.4 L935,250.2 L939.8,250 L946.2,251.2 L951.2,251.9 L951.9,258.8 L953.8,260.2 L960,260.6 L967.5,261 L975,260 L982.5,258.5 L990,256.9 L996.2,254.4 L1002.5,251.9 L1008.8,250.2 L1015,249 L1021.2,248.5 L1027.5,246.2 L1031.2,243.1 L1035,237.5 L1037.5,232.5 L1038.8,229.8 L1043.8,228.5 L1047.5,227.8 L1053.8,229.4 L1060,228.1 L1065,227.8 L1069.4,228.5 L1071.2,225 L1075,223.1 L1078.8,221.9 L1085,220.2 L1088.8,220.6 L1092.5,222.8 L1096.2,221.9 L1099.8,220.6 L1102.5,220.6 L1105.6,220.6 L1106.9,222.5 L1111.2,223.1 L1116.2,222.5 L1121.2,223.8 L1126.2,225 L1131.2,224 L1137.5,225.6 L1143.8,225 L1149.4,225.6 L1152.5,223.1 L1156.2,221.5 L1160,217.5 L1163.8,213.1 L1166.9,210 L1169.4,208.1 L1172.5,209.8 L1177.5,208.1 L1181.2,209 L1185,208.1 L1190,208.1 L1193.8,209.4 L1198.8,210.6 L1202.5,211.5 L1206.2,213.8 L1210,215.6 L1215,217.2 L1220.6,218.8"/>
</g>
<circle cx="746.2" cy="309" r="20" fill="none" stroke="#ee0712" stroke-width="2.3"/>
<text x="1088.5" y="703.5" font-size="10.8" fill="#7d808e" textLength="162" lengthAdjust="spacingAndGlyphs">© CryptoQuant. All rights reserved</text>
</svg>
</body></html>
